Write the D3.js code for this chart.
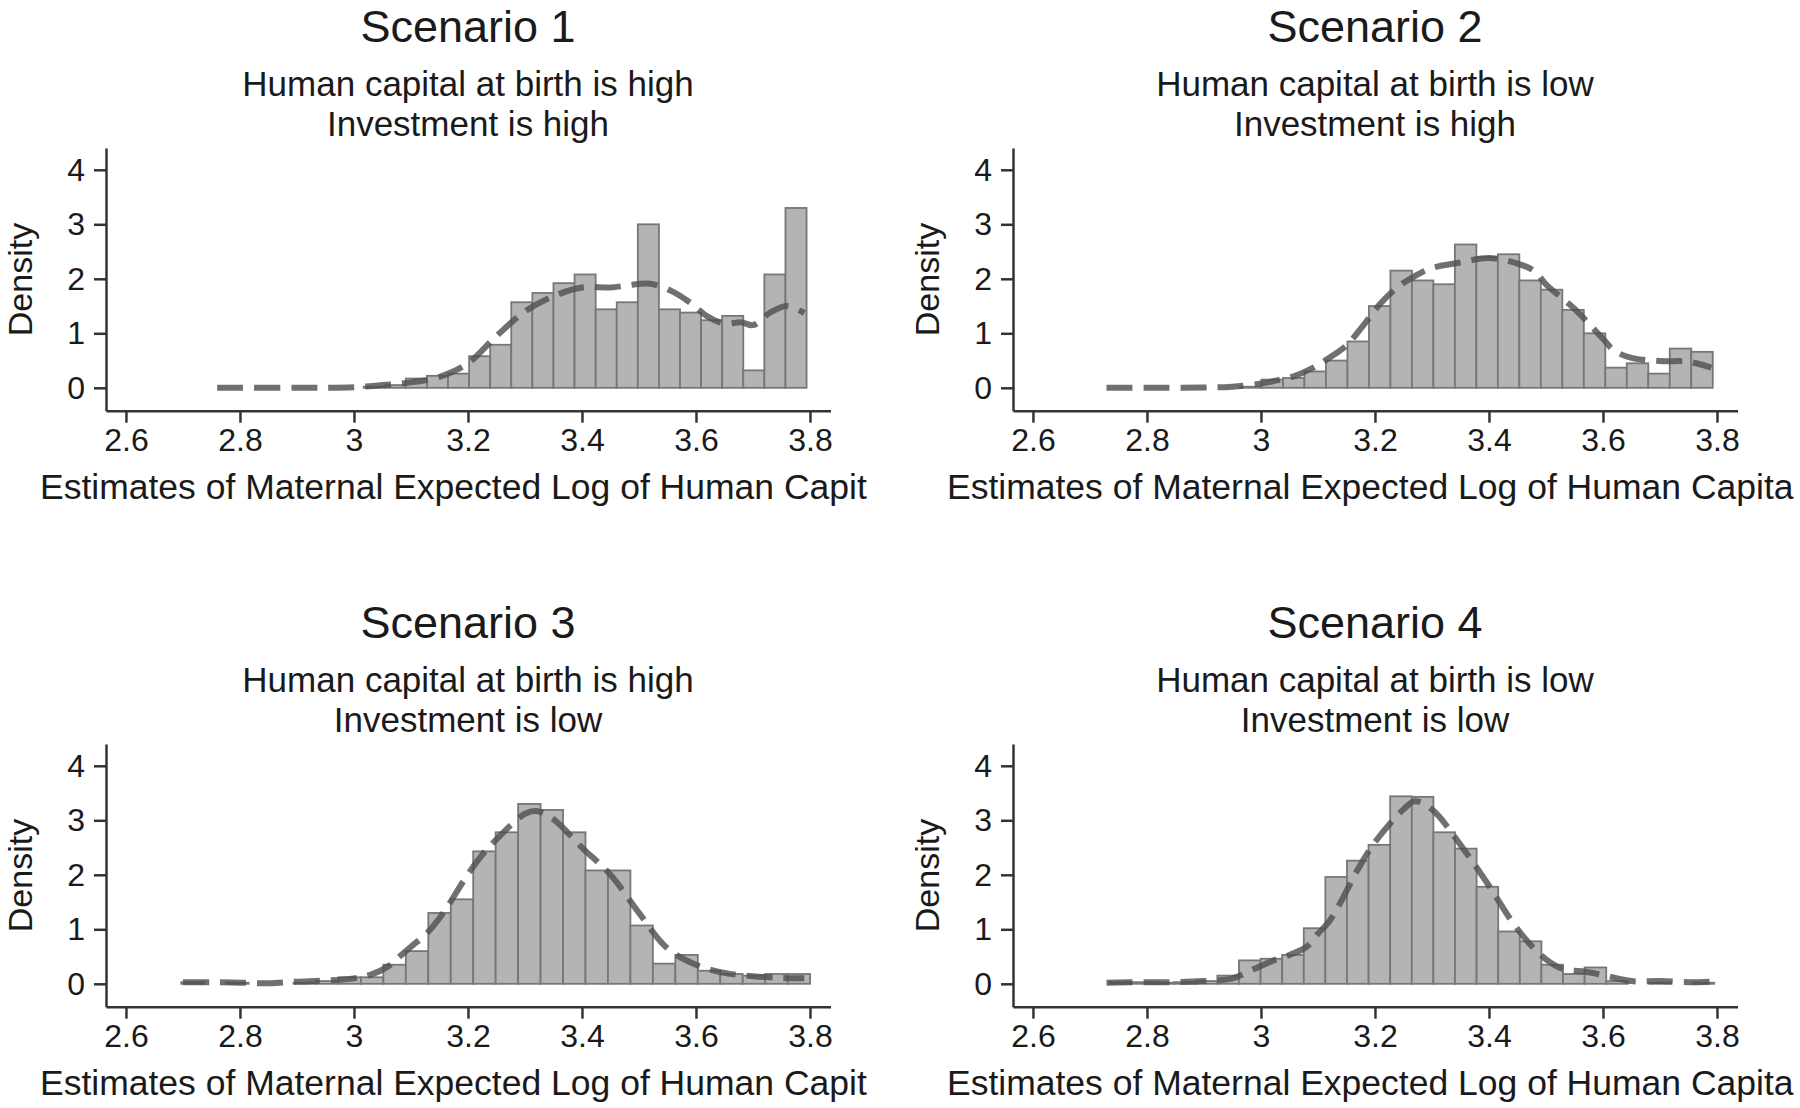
<!DOCTYPE html>
<html><head><meta charset="utf-8">
<script src="https://cdn.jsdelivr.net/npm/d3@7"></script>
<style>
html,body{margin:0;padding:0;background:#fff;}
svg{display:block;}
</style>
</head><body>
<svg id="chart" width="1800" height="1108"></svg>
<script>
// ---------- DATA ----------
const scenarioTitles = ["Scenario 1", "Scenario 2", "Scenario 3", "Scenario 4"];
const subtitleLine1 = ["Human capital at birth is high", "Human capital at birth is low",
                       "Human capital at birth is high", "Human capital at birth is low"];
const subtitleLine2 = ["Investment is high", "Investment is high", "Investment is low", "Investment is low"];
// x-axis titles as they appear (cut at the panel edge in the original)
const xAxisTitles = ["Estimates of Maternal Expected Log of Human Capit",
                     "Estimates of Maternal Expected Log of Human Capita",
                     "Estimates of Maternal Expected Log of Human Capit",
                     "Estimates of Maternal Expected Log of Human Capita"];
const yAxisTitle = "Density";
const xTicks = [2.6, 2.8, 3, 3.2, 3.4, 3.6, 3.8];
const yTicks = [0, 1, 2, 3, 4];

// histogram bins: first bin start and bin width per scenario
const binStart = [2.758, 2.737, 2.697, 2.734];
const binWidth = [0.0370, 0.0377, 0.0394, 0.0379];

// histogram densities (28 bins each)
const hist1 = [0,0,0,0,0,0,0,0.02,0.05,0.17,0.22,0.26,0.58,0.79,1.57,1.74,1.92,2.08,1.44,1.57,3.0,1.44,1.38,1.24,1.32,0.32,2.08,3.3];
const hist2 = [0,0,0,0,0,0,0.02,0.15,0.18,0.3,0.5,0.85,1.5,2.15,1.97,1.9,2.63,2.4,2.45,1.97,1.8,1.43,1.0,0.37,0.45,0.26,0.72,0.66];
const hist3 = [0.03,0,0.02,0,0,0.02,0.05,0.12,0.12,0.35,0.6,1.3,1.55,2.43,2.78,3.3,3.19,2.78,2.08,2.08,1.07,0.37,0.53,0.24,0.18,0.15,0.18,0.18];
const hist4 = [0.03,0.03,0.02,0.03,0.05,0.15,0.43,0.46,0.53,1.02,1.96,2.26,2.55,3.44,3.43,2.78,2.48,1.78,0.96,0.78,0.35,0.18,0.3,0.05,0,0.02,0,0.02];

// kernel density estimates [x, density]
const kde1 = [[2.76,0],[2.9,0],[3.0,0.01],[3.05,0.05],[3.1,0.1],[3.15,0.2],[3.2,0.45],[3.25,0.95],[3.3,1.4],[3.35,1.68],[3.4,1.84],[3.45,1.84],[3.48,1.88],[3.52,1.91],[3.56,1.76],[3.59,1.56],[3.62,1.31],[3.65,1.18],[3.68,1.2],[3.7,1.15],[3.73,1.38],[3.76,1.5],[3.79,1.37]];
const kde2 = [[2.729,0],[2.8,0],[2.9,0.005],[2.95,0.02],[3.0,0.08],[3.03,0.14],[3.06,0.22],[3.09,0.36],[3.12,0.55],[3.15,0.78],[3.18,1.15],[3.21,1.55],[3.24,1.85],[3.27,2.05],[3.3,2.2],[3.35,2.3],[3.4,2.38],[3.45,2.28],[3.48,2.14],[3.5,1.9],[3.55,1.45],[3.6,0.9],[3.62,0.68],[3.65,0.55],[3.7,0.49],[3.75,0.48],[3.79,0.37]];
const kde3 = [[2.70,0.03],[2.75,0.03],[2.8,0.02],[2.85,0.01],[2.9,0.04],[2.95,0.06],[3.0,0.1],[3.03,0.17],[3.06,0.32],[3.08,0.5],[3.1,0.68],[3.13,0.95],[3.16,1.35],[3.19,1.85],[3.22,2.3],[3.25,2.65],[3.3,3.12],[3.32,3.17],[3.35,3.02],[3.4,2.5],[3.45,2.0],[3.5,1.3],[3.55,0.65],[3.6,0.35],[3.65,0.2],[3.7,0.14],[3.75,0.11],[3.79,0.1]];
const kde4 = [[2.729,0.02],[2.8,0.03],[2.85,0.03],[2.9,0.05],[2.95,0.1],[2.99,0.28],[3.02,0.42],[3.05,0.53],[3.08,0.68],[3.1,0.92],[3.12,1.15],[3.14,1.5],[3.17,2.1],[3.2,2.6],[3.25,3.2],[3.27,3.35],[3.3,3.2],[3.35,2.55],[3.4,1.8],[3.44,1.15],[3.47,0.75],[3.5,0.45],[3.53,0.27],[3.57,0.22],[3.6,0.16],[3.65,0.05],[3.7,0.05],[3.75,0.03],[3.787,0.04]];

const hists = [hist1, hist2, hist3, hist4];
const kdes = [kde1, kde2, kde3, kde4];

// ---------- LAYOUT ----------
const FONT = '"Liberation Sans", Arial, Helvetica, sans-serif';
const offsets = [[0,0],[907,0],[0,596],[907,596]];
const AX = "#333333";
const TXT = "#1a1a1a";

const svg = d3.select("#chart");
svg.append("rect").attr("width",1800).attr("height",1108).attr("fill","#ffffff");

const x = d3.scaleLinear().domain([2.565, 3.836]).range([106, 830.5]);
const y = d3.scaleLinear().domain([-0.42, 4.4]).range([410.7, 148]);

for (let i = 0; i < 4; i++) {
  const g = svg.append("g")
    .attr("transform", `translate(${offsets[i][0]},${offsets[i][1]})`);

  // titles
  g.append("text").attr("x", 468).attr("y", 42).attr("text-anchor","middle")
    .attr("font-family", FONT).attr("font-size", 45).attr("fill", TXT).text(scenarioTitles[i]);
  g.append("text").attr("x", 468).attr("y", 96).attr("text-anchor","middle")
    .attr("font-family", FONT).attr("font-size", 35).attr("fill", TXT).text(subtitleLine1[i]);
  g.append("text").attr("x", 468).attr("y", 135.5).attr("text-anchor","middle")
    .attr("font-family", FONT).attr("font-size", 35).attr("fill", TXT).text(subtitleLine2[i]);

  // bars
  const s = binStart[i], w = binWidth[i];
  const bars = hists[i].map((h, k) => ({h, x0: s + k * w, x1: s + (k + 1) * w})).filter(d => d.h > 0);
  g.append("g").selectAll("rect").data(bars).join("rect")
    .attr("x", d => x(d.x0))
    .attr("width", d => x(d.x1) - x(d.x0))
    .attr("y", d => y(d.h))
    .attr("height", d => y(0) - y(d.h))
    .attr("fill", "#b4b4b4")
    .attr("stroke", "#777777")
    .attr("stroke-width", 1.8);

  // kde dashed line
  const line = d3.line().x(d => x(d[0])).y(d => y(d[1])).curve(d3.curveCatmullRom.alpha(0.5));
  g.append("path").datum(kdes[i]).attr("d", line)
    .attr("fill", "none").attr("stroke", "#505050").attr("stroke-opacity", 0.82)
    .attr("stroke-width", 6).attr("stroke-dasharray", "26,11");

  // axes
  const xa = g.append("g").attr("transform", `translate(0,${y.range()[0]})`)
    .call(d3.axisBottom(x).tickValues(xTicks).tickSize(12).tickSizeOuter(0).tickPadding(6).tickFormat(d => String(d)));
  xa.attr("font-family", FONT).attr("font-size", 32);
  xa.select(".domain").attr("stroke", AX).attr("stroke-width", 2.5);
  xa.selectAll(".tick line").attr("stroke", AX).attr("stroke-width", 2.5);
  xa.selectAll(".tick text").attr("fill", TXT);

  const ya = g.append("g").attr("transform", `translate(${x.range()[0]},0)`)
    .call(d3.axisLeft(y).tickValues(yTicks).tickSize(12).tickSizeOuter(0).tickPadding(9).tickFormat(d => String(d)));
  ya.attr("font-family", FONT).attr("font-size", 32);
  ya.select(".domain").attr("stroke", AX).attr("stroke-width", 2.5);
  ya.selectAll(".tick line").attr("stroke", AX).attr("stroke-width", 2.5);
  ya.selectAll(".tick text").attr("fill", TXT);

  // axis titles
  g.append("text").attr("transform", "translate(32,279.5) rotate(-90)").attr("text-anchor","middle")
    .attr("font-family", FONT).attr("font-size", 34).attr("fill", TXT).text(yAxisTitle);
  g.append("text").attr("x", 40).attr("y", 499).attr("text-anchor","start")
    .attr("font-family", FONT).attr("font-size", 35.5).attr("fill", TXT).text(xAxisTitles[i]);
}
</script>
</body></html>
